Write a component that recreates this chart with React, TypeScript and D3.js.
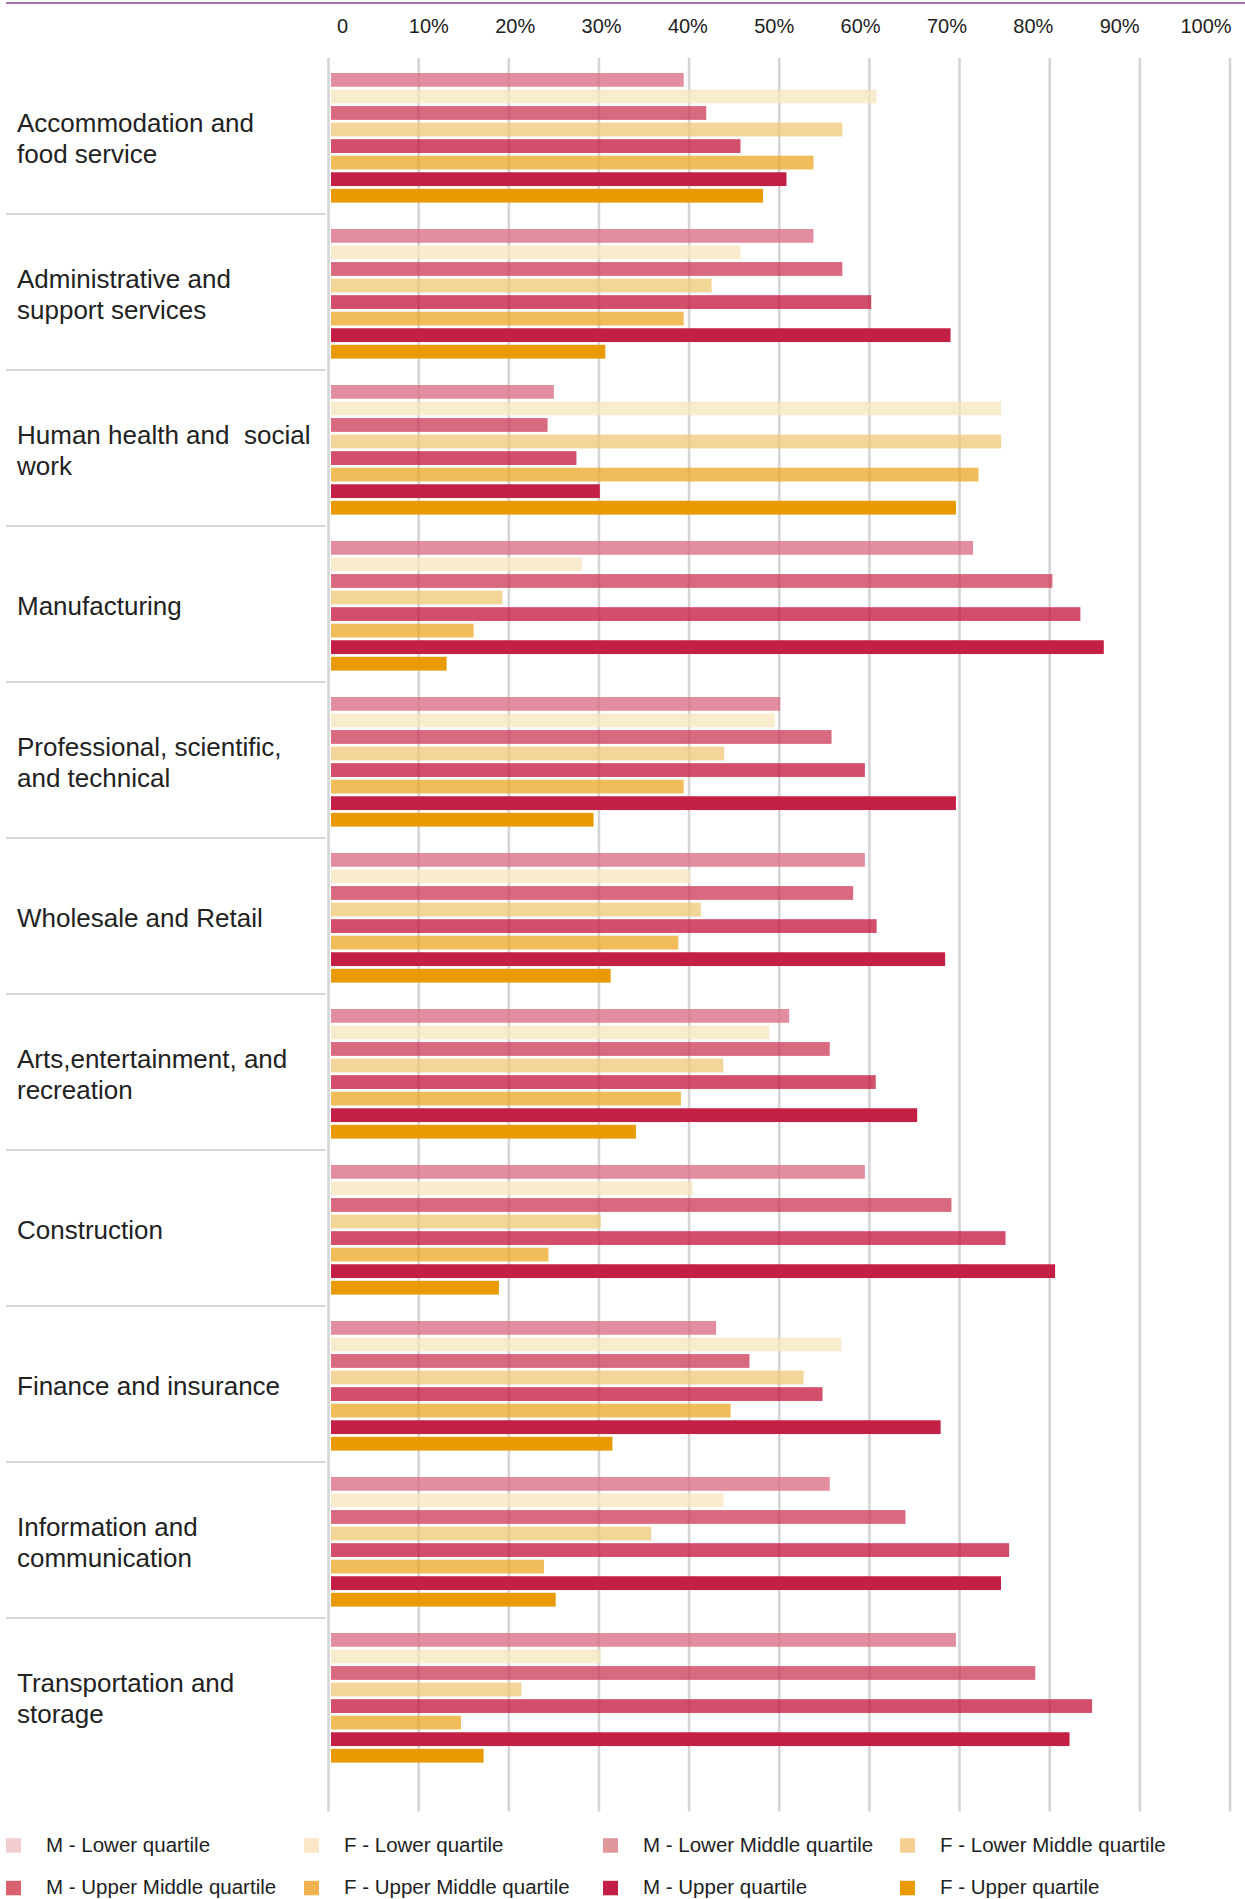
import React from "react";
import * as d3 from "d3";

// Industry sectors (line breaks mark where each label wraps)
const categories = [
  "Accommodation and\nfood service",
  "Administrative and\nsupport services",
  "Human health and  social\nwork",
  "Manufacturing",
  "Professional, scientific,\nand technical",
  "Wholesale and Retail",
  "Arts,entertainment, and\nrecreation",
  "Construction",
  "Finance and insurance",
  "Information and\ncommunication",
  "Transportation and\nstorage",
];

// Pay quartile series, in drawing order within each sector
const seriesNames = [
  "M - Lower quartile",
  "F - Lower quartile",
  "M - Lower Middle quartile",
  "F - Lower Middle quartile",
  "M - Upper Middle quartile",
  "F - Upper Middle quartile",
  "M - Upper quartile",
  "F - Upper quartile",
];

// Share (%) of each quartile, one value per sector
const mLowerQuartile = [39.4, 53.8, 25.0, 71.5, 50.1, 59.5, 51.1, 59.5, 43.0, 55.6, 69.6];
const fLowerQuartile = [60.8, 45.7, 74.6, 28.1, 49.5, 40.1, 48.9, 40.4, 56.9, 43.8, 30.2];
const mLowerMiddle = [41.9, 57.0, 24.3, 80.3, 55.8, 58.2, 55.6, 69.1, 46.7, 64.0, 78.4];
const fLowerMiddle = [57.0, 42.5, 74.6, 19.3, 43.9, 41.3, 43.8, 30.2, 52.7, 35.8, 21.4];
const mUpperMiddle = [45.7, 60.2, 27.5, 83.4, 59.5, 60.8, 60.7, 75.1, 54.8, 75.5, 84.7];
const fUpperMiddle = [53.8, 39.4, 72.1, 16.1, 39.4, 38.8, 39.1, 24.4, 44.6, 23.9, 14.7];
const mUpperQuartile = [50.8, 69.0, 30.1, 86.0, 69.6, 68.4, 65.3, 80.6, 67.9, 74.6, 82.2];
const fUpperQuartile = [48.2, 30.7, 69.6, 13.1, 29.4, 31.3, 34.1, 18.9, 31.5, 25.2, 17.2];

const seriesValues = [
  mLowerQuartile,
  fLowerQuartile,
  mLowerMiddle,
  fLowerMiddle,
  mUpperMiddle,
  fUpperMiddle,
  mUpperQuartile,
  fUpperQuartile,
];

const barColors = ["#d86880", "#f7e4bc", "#cc3754", "#efc774", "#c31338", "#eba723", "#c41f45", "#e89a00"];
const barOpacity = [0.75, 0.75, 0.75, 0.75, 0.75, 0.75, 1, 1];
const legendColors = ["#f2cdd0", "#fce6c8", "#e0979b", "#f6cf93", "#d8606f", "#f0b251", "#c41f45", "#e89a00"];

const tickValues = [0, 10, 20, 30, 40, 50, 60, 70, 80, 90, 100];
const tickLabels = ["0", "10%", "20%", "30%", "40%", "50%", "60%", "70%", "80%", "90%", "100%"];

const W = 1245;
const H = 1899;
const FONT = "'Liberation Sans', Arial, Helvetica, sans-serif";
const TEXT = "#222";

export default function App() {
  const x = d3.scaleLinear().domain([0, 100]).range([328.5, 1230]);
  const xLabel = d3.scaleLinear().domain([0, 100]).range([342.5, 1206]);

  const groupH = 156;
  const top = 58;
  const y = d3
    .scaleBand<string>()
    .domain(categories)
    .range([top, top + groupH * categories.length])
    .padding(0);
  const ySeries = d3
    .scaleBand<string>()
    .domain(seriesNames)
    .range([15, 144.6])
    .paddingInner(0.166)
    .paddingOuter(0);

  const barStart = x(0) + 2.5;
  const gridBottom = 1811.5;

  const legendColX = [6, 304, 603, 900];
  const legendRowY = [1851.7, 1894.3];

  return (
    <svg
      width={W}
      height={H}
      viewBox={`0 0 ${W} ${H}`}
      style={{ position: "absolute", left: 0, top: 0, display: "block", background: "#fff" }}
    >
      <rect x={0} y={0} width={W} height={H} fill="#fff" />
      {/* top rule */}
      <line x1={6} x2={W} y1={3} y2={3} stroke="#8e3f97" strokeWidth={1.6} />

      {/* axis labels */}
      {tickValues.map((v, i) => (
        <text
          key={"t" + v}
          x={xLabel(v)}
          y={33}
          textAnchor="middle"
          fontFamily={FONT}
          fontSize={20}
          fill={TEXT}
        >
          {tickLabels[i]}
        </text>
      ))}

      {/* gridlines */}
      {tickValues.map((v) => (
        <line
          key={"g" + v}
          x1={x(v)}
          x2={x(v)}
          y1={top}
          y2={gridBottom}
          stroke="#d5d5d5"
          strokeWidth={2.6}
        />
      ))}

      {/* sector dividers */}
      {categories.slice(0, -1).map((c) => (
        <line
          key={"d" + c}
          x1={6}
          x2={325.5}
          y1={(y(c) as number) + groupH}
          y2={(y(c) as number) + groupH}
          stroke="#d5d5d5"
          strokeWidth={2}
        />
      ))}

      {/* bars */}
      {categories.map((c, ci) => (
        <g key={"grp" + ci} transform={`translate(0,${y(c)})`}>
          {seriesNames.map((s, si) => (
            <rect
              key={s}
              x={barStart}
              y={ySeries(s)}
              width={Math.max(0, x(seriesValues[si][ci]) - barStart)}
              height={ySeries.bandwidth()}
              fill={barColors[si]}
              fillOpacity={barOpacity[si]}
            />
          ))}
        </g>
      ))}

      {/* sector labels */}
      {categories.map((c, ci) => {
        const lines = c.split("\n");
        const center = (y(c) as number) + 15 + 64.8;
        const lh = 31;
        const first = center - ((lines.length - 1) * lh) / 2 + 9.4;
        return (
          <text
            key={"l" + ci}
            x={17}
            y={first}
            fontFamily={FONT}
            fontSize={26}
            fill={TEXT}
            style={{ whiteSpace: "pre" }}
          >
            {lines.map((ln, li) => (
              <tspan key={li} x={17} y={first + li * lh}>
                {ln}
              </tspan>
            ))}
          </text>
        );
      })}

      {/* legend */}
      {seriesNames.map((s, si) => {
        const col = si % 4;
        const row = Math.floor(si / 4);
        const by = legendRowY[row];
        return (
          <g key={"lg" + s}>
            <rect x={legendColX[col]} y={by - 13.5} width={15} height={14.5} fill={legendColors[si]} />
            <text
              x={legendColX[col] + 40}
              y={by}
              fontFamily={FONT}
              fontSize={20.5}
              fill={TEXT}
            >
              {s}
            </text>
          </g>
        );
      })}
    </svg>
  );
}
